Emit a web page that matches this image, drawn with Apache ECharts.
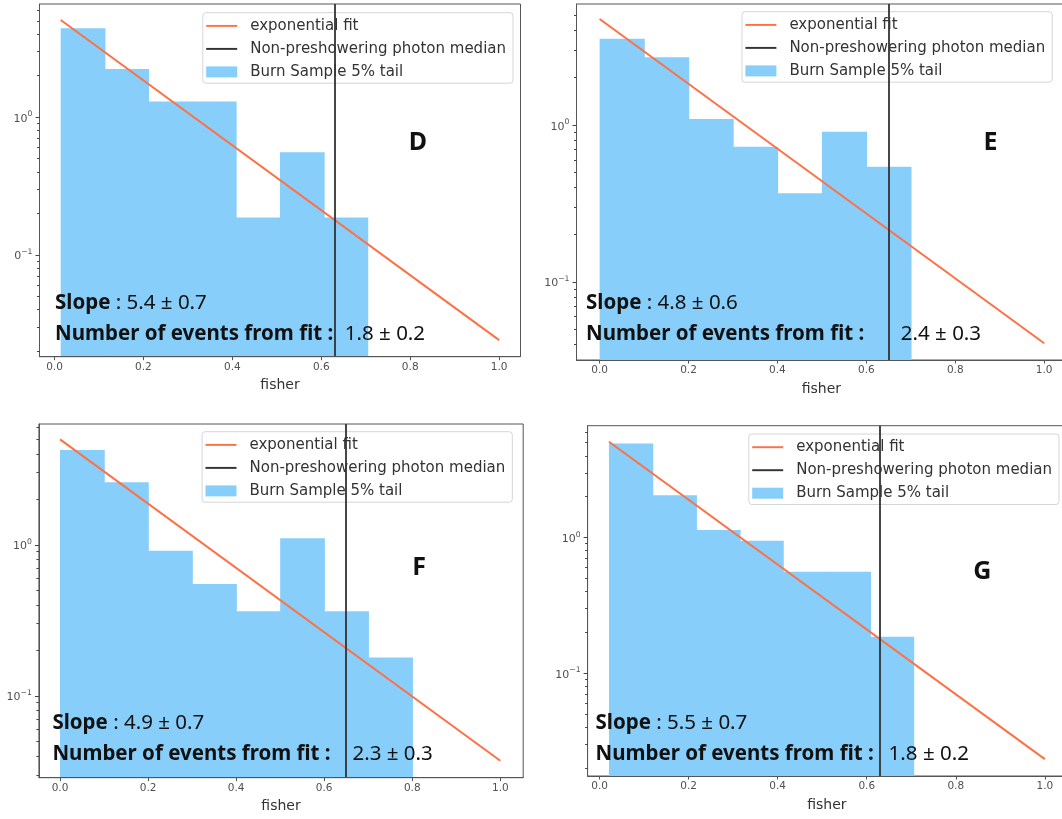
<!DOCTYPE html>
<html>
<head>
<meta charset="utf-8">
<script src="https://cdn.jsdelivr.net/npm/echarts@6/dist/echarts.min.js"></script>
<style>
html,body{margin:0;padding:0;background:#fff;}
#chart{width:1062px;height:819px;}
</style>
</head>
<body>
<div id="chart"></div>
<script>
// ---------------- DATA ----------------
const panelLetters = ['D', 'E', 'F', 'G'];
const seriesNames = ['exponential fit', 'Non-preshowering photon median', 'Burn Sample 5% tail'];
const xAxisName = 'fisher';
const xTickValues = [0, 0.2, 0.4, 0.6, 0.8, 1.0];
const yMajorTicks = [0.1, 1];
const yMinorTicks = [0.02, 0.03, 0.04, 0.05, 0.06, 0.07, 0.08, 0.09,
                     0.2, 0.3, 0.4, 0.5, 0.6, 0.7, 0.8, 0.9,
                     2, 3, 4, 5, 6, 7, 8, 9];

// Panel D
const binEdgesD = [0.014, 0.113, 0.211, 0.310, 0.408, 0.507, 0.606, 0.704];
const densityD  = [4.43, 2.24, 1.30, 1.30, 0.187, 0.557, 0.187];
const fitXD = [0.014, 1.0];
const fitYD = [5.09, 0.0241];
const medianD = 0.633;
const slopeD = '5.4 ± 0.7';
const eventsD = '1.8 ± 0.2';

// Panel E
const binEdgesE = [0.0, 0.1, 0.2, 0.3, 0.4, 0.5, 0.6, 0.7];
const densityE  = [3.56, 2.71, 1.095, 0.730, 0.368, 0.909, 0.544];
const fitXE = [0.0, 1.0];
const fitYE = [4.75, 0.0408];
const medianE = 0.651;
const slopeE = '4.8 ± 0.6';
const eventsE = '2.4 ± 0.3';

// Panel F
const binEdgesF = [0.0, 0.1, 0.2, 0.3, 0.4, 0.5, 0.6, 0.7, 0.8];
const densityF  = [4.26, 2.60, 0.917, 0.552, 0.364, 1.107, 0.364, 0.180];
const fitXF = [0.0, 1.0];
const fitYF = [5.01, 0.0373];
const medianF = 0.649;
const slopeF = '4.9 ± 0.7';
const eventsF = '2.3 ± 0.3';

// Panel G
const binEdgesG = [0.021, 0.119, 0.217, 0.315, 0.412, 0.510, 0.608, 0.705];
const densityG  = [4.96, 2.06, 1.14, 0.95, 0.562, 0.562, 0.186];
const fitXG = [0.021, 1.0];
const fitYG = [5.10, 0.0233];
const medianG = 0.634;
const slopeG = '5.5 ± 0.7';
const eventsG = '1.8 ± 0.2';

const panelData = [
  {edges: binEdgesD, dens: densityD, fx: fitXD, fy: fitYD, med: medianD, slope: slopeD, events: eventsD},
  {edges: binEdgesE, dens: densityE, fx: fitXE, fy: fitYE, med: medianE, slope: slopeE, events: eventsE},
  {edges: binEdgesF, dens: densityF, fx: fitXF, fy: fitYF, med: medianF, slope: slopeF, events: eventsF},
  {edges: binEdgesG, dens: densityG, fx: fitXG, fy: fitYG, med: medianG, slope: slopeG, events: eventsG}
];

// ---------------- LAYOUT / STYLE ----------------
const layout = [
  {grid: {left: 39.5, top: 4, width: 481, height: 352.7}, xMin: -0.0337, xMax: 1.048, yMin: 0.01826, yMax: 6.65,
   legend: {left: 202.8, top: 12.7}, ann: {x: 55, y1: 303.5, y2: 334.5, vx: 344.8}, letter: {x: 418, y: 143.3}},
  {grid: {left: 576.5, top: 4, width: 489.7, height: 356}, xMin: -0.052, xMax: 1.0495, yMin: 0.0319, yMax: 5.92,
   legend: {left: 742, top: 11.7}, ann: {x: 586, y1: 303.5, y2: 334.5, vx: 900.8}, letter: {x: 990.4, y: 143.3}},
  {grid: {left: 38.9, top: 424, width: 484.3, height: 353.7}, xMin: -0.048, xMax: 1.052, yMin: 0.0288, yMax: 6.33,
   legend: {left: 202.1, top: 431.7}, ann: {x: 52.4, y1: 722.8, y2: 753.8, vx: 352.5}, letter: {x: 419, y: 567.7}},
  {grid: {left: 587.6, top: 425.7, width: 478.6, height: 350.3}, xMin: -0.027, xMax: 1.048, yMin: 0.0175, yMax: 6.70,
   legend: {left: 748.8, top: 434}, ann: {x: 595.5, y1: 722.8, y2: 753.8, vx: 888.6}, letter: {x: 982.3, y: 571.7}}
];

const COL_BAR = '#87CEFA';
const COL_FIT = '#FF7043';
const COL_MED = '#333333';
const COL_AX = '#555555';
const COL_TXT = '#505050';
const FONT_MPL = 'DejaVu Sans';
const FONT_ANN = 'Noto Sans';
const ANN_SIZE = 20.5;

function logFmt(v) {
  const l = Math.log10(v);
  const r = Math.round(l);
  if (Math.abs(l - r) > 1e-6) return '';
  const e = r < 0 ? '\u2212' + String(-r) : String(r);
  return '{b|10}{s|' + e + '}';
}

function barRender(params, api) {
  const cs = params.coordSys;
  const a = api.coord([api.value(0), api.value(2)]);
  const b = api.coord([api.value(1), api.value(2)]);
  const bottom = cs.y + cs.height;
  return {type: 'rect', shape: {x: a[0], y: a[1], width: b[0] - a[0] + 0.7, height: bottom - a[1]},
          style: {fill: COL_BAR}};
}
function tickRender(params, api) {
  const cs = params.coordSys;
  let y = api.coord([api.value(0), api.value(1)])[1];
  if (y < cs.y - 0.5 || y > cs.y + cs.height + 0.5) return null;
  y = Math.round(y - 0.5) + 0.5;
  const len = api.value(2) === 1 ? 4 : 2.5;
  return {type: 'line', shape: {x1: cs.x - len, y1: y, x2: cs.x, y2: y}, style: {stroke: '#444', lineWidth: 1}};
}

const grids = [], xAxes = [], yAxes = [], series = [], legends = [], graphics = [];
const lineIcon = 'path://M0,0H32V2H0Z';

layout.forEach((L, i) => {
  const P = panelData[i];
  grids.push(Object.assign({show: true, borderColor: COL_AX, borderWidth: 1, backgroundColor: 'transparent',
                            containLabel: false, outerBoundsMode: 'none'}, L.grid));
  xAxes.push({
    type: 'value', gridIndex: i, min: L.xMin, max: L.xMax, z: 10,
    name: xAxisName, nameLocation: 'middle', nameGap: 22,
    nameTextStyle: {fontFamily: FONT_MPL, fontSize: 14, color: '#333'},
    axisLine: {show: true, onZero: false, lineStyle: {color: COL_AX, width: 1}},
    axisTick: {show: true, customValues: xTickValues, length: 3.5, lineStyle: {color: COL_AX}},
    axisLabel: {customValues: xTickValues, fontFamily: FONT_MPL, fontSize: 10.5, color: COL_TXT, margin: 5,
                formatter: v => Number(v).toFixed(1)},
    splitLine: {show: false}
  });
  yAxes.push({
    type: 'log', logBase: 10, gridIndex: i, min: L.yMin, max: L.yMax, z: 10,
    axisLine: {show: true, onZero: false, lineStyle: {color: COL_AX, width: 1}},
    axisTick: {show: false},
    axisLabel: {margin: 7, formatter: logFmt,
      rich: {
        b: {fontFamily: FONT_MPL, fontSize: 11, color: COL_TXT, lineHeight: 14, verticalAlign: 'bottom'},
        s: {fontFamily: FONT_MPL, fontSize: 7.7, color: COL_TXT, lineHeight: 9, verticalAlign: 'top'}
      }},
    splitLine: {show: false}
  });
  // histogram
  const bars = P.dens.map((h, k) => [P.edges[k], P.edges[k + 1], h]);
  series.push({
    name: seriesNames[2], type: 'custom', xAxisIndex: i, yAxisIndex: i, z: 2,
    itemStyle: {color: COL_BAR}, renderItem: barRender, encode: {x: [0, 1], y: 2}, data: bars, silent: true
  });
  // exponential fit
  series.push({
    name: seriesNames[0], type: 'line', xAxisIndex: i, yAxisIndex: i, z: 3,
    showSymbol: false, symbol: 'none', silent: true,
    itemStyle: {color: COL_FIT}, lineStyle: {color: COL_FIT, width: 2},
    data: P.fx.map((x, k) => [x, P.fy[k]])
  });
  // median
  series.push({
    name: seriesNames[1], type: 'line', xAxisIndex: i, yAxisIndex: i, z: 4,
    showSymbol: false, symbol: 'none', silent: true,
    itemStyle: {color: COL_MED}, lineStyle: {color: COL_MED, width: 2},
    data: [[P.med, 1]],
    markLine: {silent: true, symbol: ['none', 'none'], label: {show: false}, animation: false,
               lineStyle: {color: COL_MED, width: 2, type: 'solid', opacity: 0.9},
               emphasis: {disabled: true}, data: [{xAxis: P.med}]}
  });
  // y ticks (major + minor)
  const ticks = yMajorTicks.map(v => [0.5, v, 1]).concat(yMinorTicks.map(v => [0.5, v, 0]));
  series.push({
    type: 'custom', xAxisIndex: i, yAxisIndex: i, z: 20, clip: false, silent: true,
    dimensions: ['x', 'y', 'major'],
    renderItem: tickRender, encode: {x: 0, y: 1}, data: ticks
  });
  legends.push({
    left: L.legend.left, top: L.legend.top, orient: 'vertical',
    itemWidth: 31, itemHeight: 11, itemGap: 8,
    padding: [5.7, 7, 3.8, 3.4],
    backgroundColor: 'rgba(255,255,255,0.8)', borderColor: '#d6d6d6', borderWidth: 1, borderRadius: 3,
    selectedMode: false,
    textStyle: {fontFamily: FONT_MPL, fontSize: 15, color: '#333', padding: [0, 0, 0, 8]},
    itemStyle: {borderWidth: 0},
    data: [
      {name: seriesNames[0], icon: lineIcon},
      {name: seriesNames[1], icon: lineIcon},
      {name: seriesNames[2], icon: 'rect'}
    ]
  });
  const annStyle = {fontFamily: FONT_ANN, fontSize: ANN_SIZE, fill: '#111', verticalAlign: 'middle'};
  graphics.push({
    type: 'text', x: L.ann.x, y: L.ann.y1, z: 50,
    style: Object.assign({}, annStyle, {text: '{b|Slope} : ' + P.slope,
      rich: {b: {fontFamily: FONT_ANN, fontSize: ANN_SIZE, fontWeight: 'bold', fill: '#111'}}})
  });
  graphics.push({
    type: 'text', x: L.ann.x, y: L.ann.y2, z: 50,
    style: Object.assign({}, annStyle, {text: 'Number of events from fit :', fontWeight: 'bold'})
  });
  graphics.push({
    type: 'text', x: L.ann.vx, y: L.ann.y2, z: 50,
    style: Object.assign({}, annStyle, {text: P.events})
  });
  graphics.push({
    type: 'text', x: L.letter.x, y: L.letter.y, z: 50,
    style: {text: panelLetters[i], fontFamily: FONT_ANN, fontSize: 25, fontWeight: 'bold', fill: '#111',
            align: 'center', verticalAlign: 'middle'}
  });
});
// crop of the source image at the far left of the top-left panel
graphics.push({type: 'rect', z: 100, shape: {x: 0, y: 0, width: 14.2, height: 400}, style: {fill: '#fff'}});

const chart = echarts.init(document.getElementById('chart'), null, {renderer: 'canvas'});
chart.setOption({
  animation: false,
  backgroundColor: '#fff',
  grid: grids,
  xAxis: xAxes,
  yAxis: yAxes,
  legend: legends,
  series: series,
  graphic: graphics
});
</script>
</body>
</html>
